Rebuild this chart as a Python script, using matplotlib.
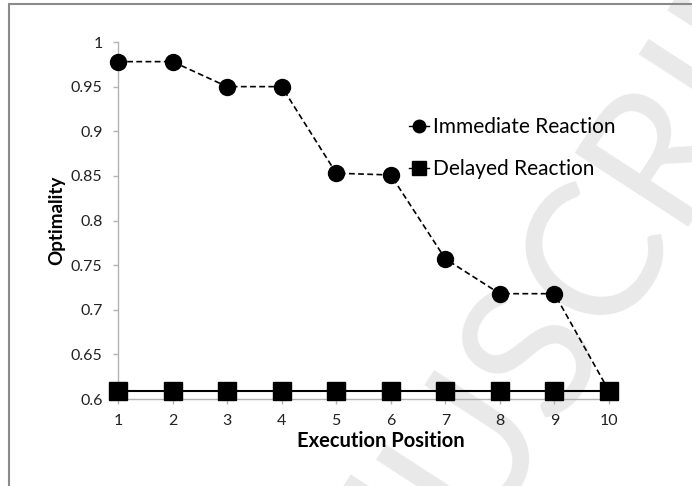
import matplotlib
matplotlib.use("Agg")
import matplotlib.pyplot as plt
from matplotlib.lines import Line2D
from matplotlib.patches import Rectangle

positions = [1, 2, 3, 4, 5, 6, 7, 8, 9, 10]
immediate = [0.978, 0.978, 0.950, 0.950, 0.853, 0.851, 0.757, 0.718, 0.718, 0.609]
delayed = [0.609, 0.609, 0.609, 0.609, 0.609, 0.609, 0.609, 0.609, 0.609, 0.609]
yticks = [0.6, 0.65, 0.7, 0.75, 0.8, 0.85, 0.9, 0.95, 1.0]
ytick_labels = ["0.6", "0.65", "0.7", "0.75", "0.8", "0.85", "0.9", "0.95", "1"]

plt.rcParams['font.family'] = ['Lato', 'DejaVu Sans']

fig = plt.figure(figsize=(6.92, 4.86), dpi=100)

# watermark behind everything
wm_x, wm_y = 0.685, -0.0975
fig.text(wm_x, wm_y, "USCRIPT", rotation=57, rotation_mode='anchor',
         ha='left', va='baseline', fontsize=135, fontweight='normal',
         color='#e9e9e9', zorder=0)
fig.text(wm_x, wm_y, "ACCEPTED MAN", rotation=57, rotation_mode='anchor',
         ha='right', va='baseline', fontsize=135, fontweight='normal',
         color='#e9e9e9', zorder=0)

# chart border (only left and top visible)
fig.add_artist(Rectangle((8.5 / 692, -0.1), 2.0, 1.1 - 3.5 / 486,
                         transform=fig.transFigure, fill=False,
                         edgecolor='#8a8a8a', lw=1.5, zorder=1))

ax = fig.add_axes([118 / 692, 87 / 486, (609 - 118) / 692, (399 - 42) / 486])
ax.set_zorder(2)
ax.patch.set_alpha(0)

ax.plot(positions, delayed, color='black', lw=1.5, marker='s', markersize=12.5,
        clip_on=False, zorder=3)
ax.plot(positions, immediate, color='black', lw=1.2, ls=(0, (3.5, 2)),
        marker='o', markersize=11.5, clip_on=False, zorder=4)

ax.set_xlim(1, 10)
ax.set_ylim(0.6, 1.0)
ax.set_xticks(positions)
ax.set_yticks(yticks)
ax.set_yticklabels(ytick_labels)
for s in ['top', 'right']:
    ax.spines[s].set_visible(False)
for s in ['left', 'bottom']:
    ax.spines[s].set_color('#b3b3b3')
    ax.spines[s].set_linewidth(1.0)
ax.tick_params(axis='both', colors='#b3b3b3', labelcolor='#222222',
               labelsize=11.5, length=3.6, width=1)
ax.tick_params(axis='y', pad=7.5)
ax.tick_params(axis='x', pad=7.5)

ax.set_xlabel("Execution Position", fontsize=14.5, fontweight='bold', va='center')
ax.xaxis.set_label_coords(0.536, -0.118)
ax.set_ylabel("Optimality", fontsize=13.5, fontweight='bold', va='center')
ax.yaxis.set_label_coords(-0.124, 0.5)

handles = [Line2D([], [], color='black', lw=1, marker='o', markersize=9),
           Line2D([], [], color='black', lw=1, marker='s', markersize=10)]
fig.legend(handles, ["Immediate Reaction", "Delayed Reaction"],
           loc='upper left', bbox_to_anchor=(409 / 692, 1 - 117 / 486),
           frameon=False, fontsize=15, handlelength=0.95, handletextpad=0.2,
           borderpad=0, borderaxespad=0, labelspacing=1.05)

plt.savefig('out.png', dpi=100)
